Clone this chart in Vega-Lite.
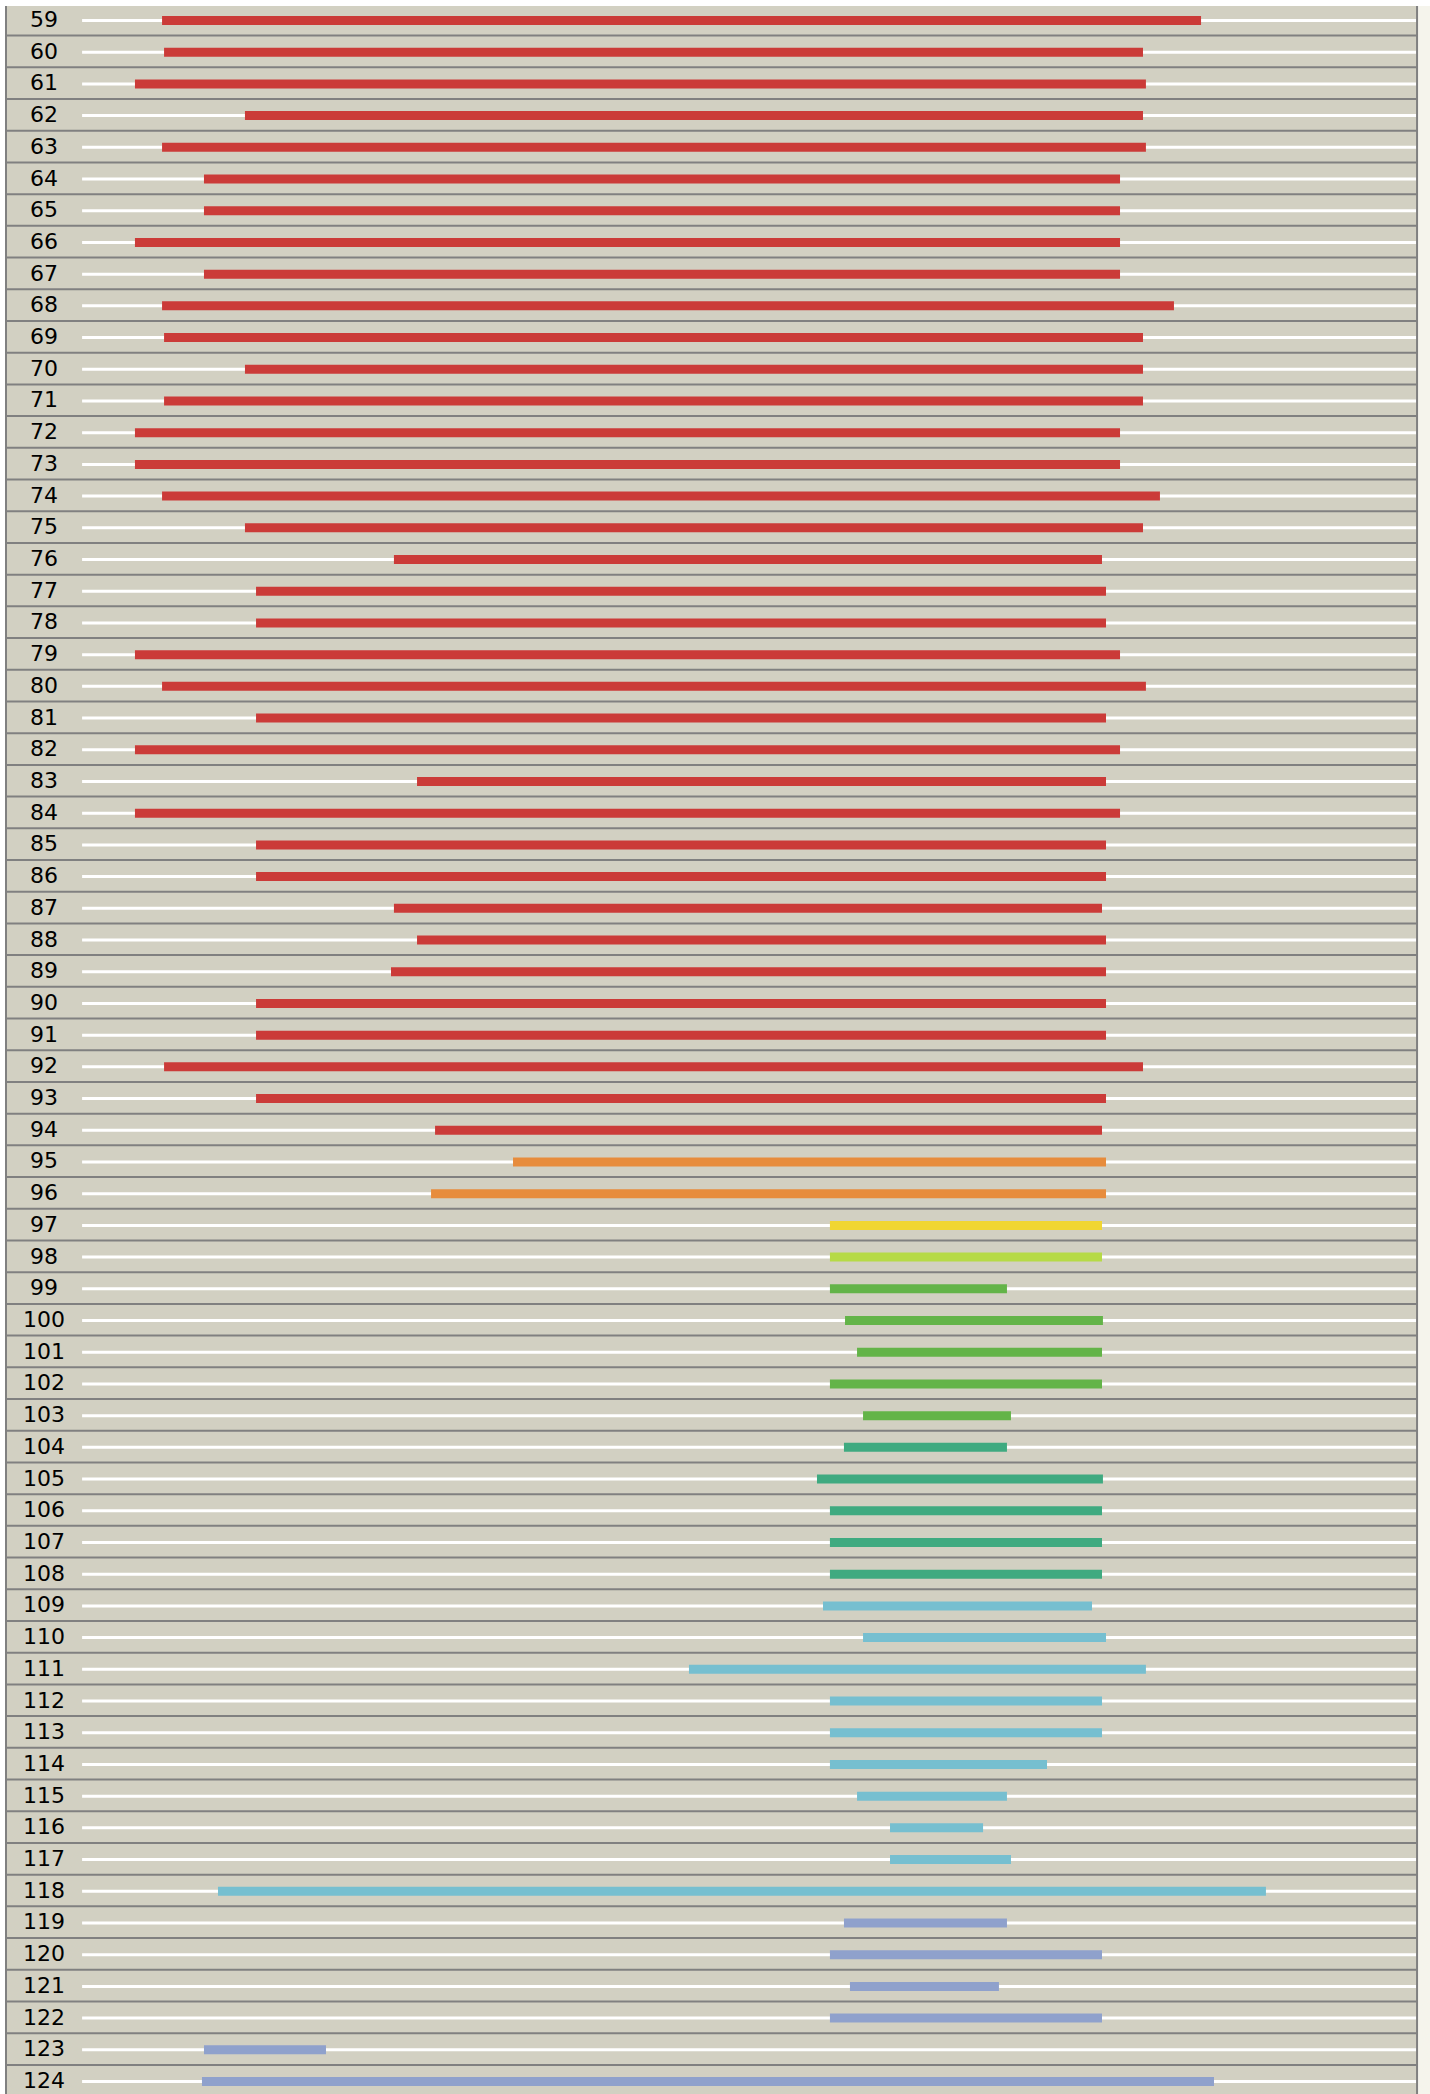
{
  "$schema": "https://vega.github.io/schema/vega-lite/v6.json",
  "width": 1424,
  "height": 2088,
  "padding": {"left": 6, "top": 6, "right": 0, "bottom": 0},
  "autosize": {"type": "none"},
  "background": "#ffffff",
  "config": {"view": {"stroke": null, "fill": "#d2d0c2"}},
  "data": {"values": [
    {"row": 59, "start": 59.9, "end": 838.2, "group": "a"},
    {"row": 60, "start": 61.4, "end": 794.7, "group": "a"},
    {"row": 61, "start": 39.6, "end": 796.9, "group": "a"},
    {"row": 62, "start": 122.0, "end": 794.7, "group": "a"},
    {"row": 63, "start": 59.9, "end": 796.9, "group": "a"},
    {"row": 64, "start": 91.3, "end": 777.5, "group": "a"},
    {"row": 65, "start": 91.3, "end": 777.5, "group": "a"},
    {"row": 66, "start": 39.6, "end": 777.5, "group": "a"},
    {"row": 67, "start": 91.3, "end": 777.5, "group": "a"},
    {"row": 68, "start": 59.9, "end": 817.9, "group": "a"},
    {"row": 69, "start": 61.4, "end": 794.7, "group": "a"},
    {"row": 70, "start": 122.0, "end": 794.7, "group": "a"},
    {"row": 71, "start": 61.4, "end": 794.7, "group": "a"},
    {"row": 72, "start": 39.6, "end": 777.5, "group": "a"},
    {"row": 73, "start": 39.6, "end": 777.5, "group": "a"},
    {"row": 74, "start": 59.9, "end": 807.4, "group": "a"},
    {"row": 75, "start": 122.0, "end": 794.7, "group": "a"},
    {"row": 76, "start": 233.6, "end": 764.0, "group": "a"},
    {"row": 77, "start": 130.3, "end": 767.0, "group": "a"},
    {"row": 78, "start": 130.3, "end": 767.0, "group": "a"},
    {"row": 79, "start": 39.6, "end": 777.5, "group": "a"},
    {"row": 80, "start": 59.9, "end": 796.9, "group": "a"},
    {"row": 81, "start": 130.3, "end": 767.0, "group": "a"},
    {"row": 82, "start": 39.6, "end": 777.5, "group": "a"},
    {"row": 83, "start": 250.9, "end": 767.0, "group": "a"},
    {"row": 84, "start": 39.6, "end": 777.5, "group": "a"},
    {"row": 85, "start": 130.3, "end": 767.0, "group": "a"},
    {"row": 86, "start": 130.3, "end": 767.0, "group": "a"},
    {"row": 87, "start": 233.6, "end": 764.0, "group": "a"},
    {"row": 88, "start": 250.9, "end": 767.0, "group": "a"},
    {"row": 89, "start": 231.4, "end": 767.0, "group": "a"},
    {"row": 90, "start": 130.3, "end": 767.0, "group": "a"},
    {"row": 91, "start": 130.3, "end": 767.0, "group": "a"},
    {"row": 92, "start": 61.4, "end": 794.7, "group": "a"},
    {"row": 93, "start": 130.3, "end": 767.0, "group": "a"},
    {"row": 94, "start": 264.4, "end": 764.0, "group": "a"},
    {"row": 95, "start": 322.8, "end": 767.0, "group": "b"},
    {"row": 96, "start": 261.4, "end": 767.0, "group": "b"},
    {"row": 97, "start": 560.2, "end": 764.0, "group": "c"},
    {"row": 98, "start": 560.2, "end": 764.0, "group": "d"},
    {"row": 99, "start": 560.2, "end": 692.8, "group": "e"},
    {"row": 100, "start": 571.5, "end": 764.7, "group": "e"},
    {"row": 101, "start": 580.5, "end": 764.0, "group": "e"},
    {"row": 102, "start": 560.2, "end": 764.0, "group": "e"},
    {"row": 103, "start": 585.0, "end": 695.8, "group": "e"},
    {"row": 104, "start": 570.7, "end": 692.8, "group": "f"},
    {"row": 105, "start": 550.5, "end": 764.7, "group": "f"},
    {"row": 106, "start": 560.2, "end": 764.0, "group": "f"},
    {"row": 107, "start": 560.2, "end": 764.0, "group": "f"},
    {"row": 108, "start": 560.2, "end": 764.0, "group": "f"},
    {"row": 109, "start": 555.0, "end": 756.5, "group": "g"},
    {"row": 110, "start": 585.0, "end": 767.0, "group": "g"},
    {"row": 111, "start": 454.6, "end": 796.9, "group": "g"},
    {"row": 112, "start": 560.2, "end": 764.0, "group": "g"},
    {"row": 113, "start": 560.2, "end": 764.0, "group": "g"},
    {"row": 114, "start": 560.2, "end": 722.8, "group": "g"},
    {"row": 115, "start": 580.5, "end": 692.8, "group": "g"},
    {"row": 116, "start": 605.2, "end": 674.9, "group": "g"},
    {"row": 117, "start": 605.2, "end": 695.8, "group": "g"},
    {"row": 118, "start": 101.8, "end": 886.8, "group": "g"},
    {"row": 119, "start": 570.7, "end": 692.8, "group": "h"},
    {"row": 120, "start": 560.2, "end": 764.0, "group": "h"},
    {"row": 121, "start": 575.2, "end": 686.8, "group": "h"},
    {"row": 122, "start": 560.2, "end": 764.0, "group": "h"},
    {"row": 123, "start": 91.3, "end": 182.7, "group": "h"},
    {"row": 124, "start": 89.8, "end": 847.9, "group": "h"}
  ]},
  "layer": [
    {
      "data": {"values": [{}]},
      "mark": {"type": "rect", "color": "#f5f4ec"},
      "encoding": {
        "x": {"datum": 1000, "type": "quantitative", "scale": {"domain": [-57, 1009.7], "nice": false, "zero": false}, "axis": null},
        "x2": {"datum": 1009.7},
        "y": {"datum": 58.5585, "type": "quantitative", "scale": {"domain": [58.5585, 124.41], "nice": false, "zero": false, "reverse": true}, "axis": null},
        "y2": {"datum": 124.41}
      }
    },
    {
      "mark": {"type": "rule", "color": "#808080", "strokeWidth": 2, "yOffset": 15.6},
      "encoding": {
        "x": {"datum": -57, "type": "quantitative", "axis": null},
        "x2": {"datum": 1000},
        "y": {"field": "row", "type": "quantitative", "axis": null}
      }
    },
    {
      "mark": {"type": "rule", "color": "#ffffff", "strokeWidth": 3, "yOffset": 0.5},
      "encoding": {
        "x": {"datum": 0, "type": "quantitative", "axis": null},
        "x2": {"datum": 1000},
        "y": {"field": "row", "type": "quantitative", "axis": null}
      }
    },
    {
      "mark": {"type": "rule", "strokeWidth": 9, "strokeCap": "butt", "yOffset": 0.5},
      "encoding": {
        "x": {"field": "start", "type": "quantitative", "axis": null},
        "x2": {"field": "end"},
        "y": {"field": "row", "type": "quantitative", "axis": null},
        "color": {"field": "group", "type": "nominal", "legend": null,
          "scale": {"domain": ["a", "b", "c", "d", "e", "f", "g", "h"],
                    "range": ["#cb3b38", "#e78c3c", "#f1d632", "#b6da46", "#63b448", "#3faa80", "#76bfd0", "#8fa1cc"]}}
      }
    },
    {
      "data": {"values": [{}]},
      "mark": {"type": "rule", "color": "#808080", "strokeWidth": 2},
      "encoding": {
        "x": {"datum": 1000, "type": "quantitative", "axis": null}
      }
    },
    {
      "data": {"values": [{}]},
      "mark": {"type": "rule", "color": "#808080", "strokeWidth": 2},
      "encoding": {
        "x": {"datum": -57, "type": "quantitative", "axis": null}
      }
    },
    {
      "mark": {"type": "text", "font": "DejaVu Sans", "fontSize": 22, "align": "center", "baseline": "middle", "color": "#000000"},
      "encoding": {
        "x": {"datum": -28.5, "type": "quantitative", "axis": null},
        "y": {"field": "row", "type": "quantitative", "axis": null},
        "text": {"field": "row", "type": "nominal"}
      }
    }
  ]
}
